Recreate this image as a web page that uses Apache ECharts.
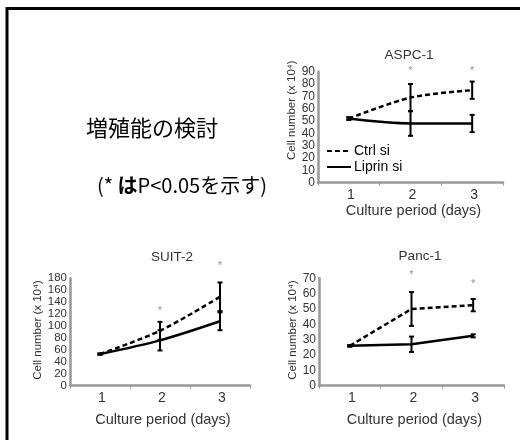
<!DOCTYPE html>
<html><head><meta charset="utf-8">
<script src="https://cdn.jsdelivr.net/npm/echarts@6/dist/echarts.min.js"></script>
<style>html,body{margin:0;padding:0;background:#fff}#c{width:520px;height:440px}</style>
</head><body><div id="c"></div>
<script>
var days = ['1', '2', '3'];
// ASPC-1
var aspcCtrl = [52, 69, 75];
var aspcCtrlErr = [1, 11, 7];
var aspcLip = [52, 48, 48];
var aspcLipErr = [1, 10, 7];
var aspcStars = [null, 93, 93];
var aspcTicks = [0, 90, 10];
// SUIT-2
var suitCtrl = [53, 92, 149];
var suitCtrlErr = [1, 15, 24];
var suitLip = [53, 76, 108];
var suitLipErr = [1, 17, 15];
var suitStars = [null, 131, 206];
var suitTicks = [0, 180, 20];
// Panc-1
var pancCtrl = [26, 50, 52.5];
var pancCtrlErr = [0.5, 11, 4];
var pancLip = [26, 27, 32.5];
var pancLipErr = [0.5, 5, 1];
var pancStars = [null, 74, 68.5];
var pancTicks = [0, 70, 10];

var titles = ['ASPC-1', 'SUIT-2', 'Panc-1'];
var yName = 'Cell number (x 10⁴)';
var xName = 'Culture period (days)';
var heading = '増殖能の検討';
var note = ['(*', 'は', 'P<0.05を示す)'];

var FONT = 'Liberation Sans, Arial, sans-serif';
var grids = [
  {left: 318, top: 71.7, width: 185, height: 111},
  {left: 70, top: 278.3, width: 180, height: 107.4},
  {left: 319, top: 278.3, width: 185, height: 107.4}
];
var tickSets = [aspcTicks, suitTicks, pancTicks];
var nameGapsY = [18, 24, 16];
var namePadY = [[0, 0, 0, 34], [0, 0, 0, 4], [0, 0, 0, 4]];
var nameGapsX = [21, 27, 27];

function errData(vals, errs) {
  return vals.map(function (v, i) { return [i, v - errs[i], v + errs[i]]; });
}
function starData(st) {
  var out = [];
  st.forEach(function (v, i) { if (v != null) out.push([i, v]); });
  return out;
}
function errRender(params, api) {
  var x = api.value(0);
  var lo = api.coord([x, api.value(1)]);
  var hi = api.coord([x, api.value(2)]);
  var w = 2.5;
  var st = {stroke: '#000', lineWidth: 2};
  return {type: 'group', children: [
    {type: 'line', shape: {x1: lo[0], y1: lo[1], x2: hi[0], y2: hi[1]}, style: st},
    {type: 'line', shape: {x1: lo[0] - w, y1: lo[1], x2: lo[0] + w, y2: lo[1]}, style: st},
    {type: 'line', shape: {x1: hi[0] - w, y1: hi[1], x2: hi[0] + w, y2: hi[1]}, style: st}
  ]};
}

var xAxes = [], yAxes = [], series = [];
var sets = [
  [aspcCtrl, aspcCtrlErr, aspcLip, aspcLipErr, aspcStars, 0.3],
  [suitCtrl, suitCtrlErr, suitLip, suitLipErr, suitStars, 0.3],
  [pancCtrl, pancCtrlErr, pancLip, pancLipErr, pancStars, 0]
];
grids.forEach(function (g, i) {
  var t = tickSets[i];
  xAxes.push({
    type: 'category', gridIndex: i, data: days, boundaryGap: true,
    name: xName, nameLocation: 'middle', nameGap: nameGapsX[i],
    nameTextStyle: {fontFamily: FONT, fontSize: 14.5, color: '#333', padding: [0, 0, 0, 6]},
    axisLine: {show: true, lineStyle: {color: '#999', width: 2.5}},
    axisTick: {show: true, length: 3, lineStyle: {color: '#999'}},
    axisLabel: {fontFamily: FONT, fontSize: 14, color: '#333', margin: 5, padding: [0, 0, 0, 4]},
    splitLine: {show: false}
  });
  yAxes.push({
    type: 'value', gridIndex: i, min: t[0], max: t[1], interval: t[2],
    name: yName, nameLocation: 'middle', nameGap: nameGapsY[i], nameRotate: 90,
    nameTextStyle: {fontFamily: FONT, fontSize: 11.5, color: '#333', padding: namePadY[i]},
    axisLine: {show: true, lineStyle: {color: '#999', width: 2.5}},
    axisTick: {show: false},
    axisLabel: {fontFamily: FONT, fontSize: i === 1 ? 11.5 : 12, color: '#333', margin: 3},
    splitLine: {show: false}
  });
  var s = sets[i];
  series.push({
    name: 'Ctrl si', type: 'line', xAxisIndex: i, yAxisIndex: i, data: s[0],
    symbol: 'none', smooth: s[5], lineStyle: {color: '#000', width: 2.5, type: [5, 3]},
    itemStyle: {color: '#000'}, z: 3
  });
  series.push({
    name: 'Liprin si', type: 'line', xAxisIndex: i, yAxisIndex: i, data: s[2],
    symbol: 'none', smooth: s[5], lineStyle: {color: '#000', width: 2.5, type: 'solid'},
    itemStyle: {color: '#000'}, z: 3
  });
  series.push({
    type: 'custom', xAxisIndex: i, yAxisIndex: i, data: errData(s[0], s[1]),
    renderItem: errRender, encode: {x: 0, y: [1, 2]}, z: 4, silent: true
  });
  series.push({
    type: 'custom', xAxisIndex: i, yAxisIndex: i, data: errData(s[2], s[3]),
    renderItem: errRender, encode: {x: 0, y: [1, 2]}, z: 4, silent: true
  });
  series.push({
    type: 'scatter', xAxisIndex: i, yAxisIndex: i, data: starData(s[4]),
    symbolSize: 0, clip: false, silent: true,
    label: {show: true, formatter: '*', position: 'inside', color: '#777',
      fontFamily: FONT, fontSize: 11, offset: [0, 3]}
  });
});

var titleCenters = [[404, 51], [167, 253], [415, 252]];
var option = {
  animation: false,
  backgroundColor: '#fff',
  title: titles.map(function (t, i) {
    return {text: t, left: titleCenters[i][0], top: titleCenters[i][1] - 8, textAlign: 'center',
      textStyle: {fontFamily: FONT, fontSize: 13.5, fontWeight: 'normal', color: '#333'}};
  }),
  legend: {
    data: ['Ctrl si', 'Liprin si'], orient: 'vertical', left: 321, top: 139,
    itemWidth: 24, itemHeight: 10, itemGap: 2,
    itemStyle: {opacity: 0, borderWidth: 0},
    textStyle: {fontFamily: FONT, fontSize: 14, color: '#000', padding: [0, 0, 0, -2]}
  },
  grid: grids.map(function (g) { return Object.assign({containLabel: false}, g); }),
  xAxis: xAxes,
  yAxis: yAxes,
  series: series,
  graphic: [
    {type: 'line', shape: {x1: 6, y1: 8.5, x2: 520, y2: 8.5}, style: {stroke: '#000', lineWidth: 3}},
    {type: 'line', shape: {x1: 7, y1: 7, x2: 7, y2: 440}, style: {stroke: '#000', lineWidth: 3}},
    {type: 'text', left: 86, top: 117, style: {text: heading, fontSize: 22,
      fontFamily: 'Noto Sans CJK JP', fill: '#000'}},
    {type: 'text', left: 97, top: 175, style: {
      text: '{a|' + note[0] + ' }{b|' + note[1] + '}{a|' + note[2] + '}',
      rich: {
        a: {fontSize: 20, fontFamily: 'Noto Sans CJK JP', fill: '#000', color: '#000'},
        b: {fontSize: 20, fontFamily: 'Noto Sans CJK JP', fontWeight: 'bold', fill: '#000', color: '#000'}
      }}}
  ]
};
var chart = echarts.init(document.getElementById('c'), null, {renderer: 'canvas'});
chart.setOption(option);
</script></body></html>
